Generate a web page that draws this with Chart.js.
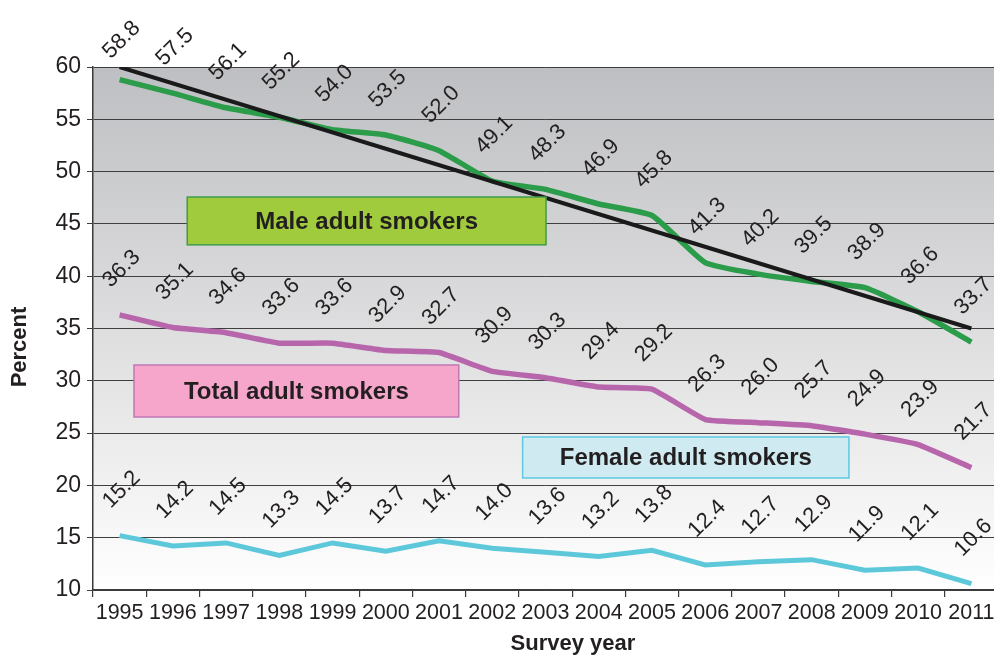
<!DOCTYPE html>
<html>
<head>
<meta charset="utf-8">
<script src="https://cdn.jsdelivr.net/npm/chart.js@4/dist/chart.umd.min.js"></script>
<style>
html,body{margin:0;padding:0;background:#fff;overflow:hidden;}
canvas{display:block;}
</style>
</head>
<body>
<canvas id="c" width="998" height="657"></canvas>
<script>
const years = ['1995','1996','1997','1998','1999','2000','2001','2002','2003','2004','2005','2006','2007','2008','2009','2010','2011'];
const male = [58.8,57.5,56.1,55.2,54.0,53.5,52.0,49.1,48.3,46.9,45.8,41.3,40.2,39.5,38.9,36.6,33.7];
const total = [36.3,35.1,34.6,33.6,33.6,32.9,32.7,30.9,30.3,29.4,29.2,26.3,26.0,25.7,24.9,23.9,21.7];
const female = [15.2,14.2,14.5,13.3,14.5,13.7,14.7,14.0,13.6,13.2,13.8,12.4,12.7,12.9,11.9,12.1,10.6];
const maleTrend = [60,null,null,null,null,null,null,null,null,null,null,null,null,null,null,null,35];
const yTicks = [10,15,20,25,30,35,40,45,50,55,60];

const FONT = "'Liberation Sans', Arial, sans-serif";
const TXT = '#231f20';

const boxes = [
  {text:'Male adult smokers', x0:1.27, x1:8.01, y0:47.57, y1:43.0, fill:'#9fcb3c', stroke:'#3f9c4c'},
  {text:'Total adult smokers', x0:0.27, x1:6.37, y0:31.51, y1:26.54, fill:'#f5a6ca', stroke:'#c277b4'},
  {text:'Female adult smokers', x0:7.57, x1:13.7, y0:24.63, y1:20.71, fill:'#cfebf1', stroke:'#5bc9e2'}
];

const bgPlugin = {
  id:'bg',
  beforeDraw(chart){
    const {ctx, chartArea:a} = chart;
    const g = ctx.createLinearGradient(0, a.top, 0, a.bottom);
    g.addColorStop(0, '#bebfc2');
    g.addColorStop(0.6, '#e4e4e5');
    g.addColorStop(1, '#ffffff');
    ctx.save();
    ctx.fillStyle = g;
    ctx.fillRect(a.left, a.top, a.right - a.left, a.bottom - a.top);
    ctx.restore();
  }
};

const overlayPlugin = {
  id:'overlay',
  afterDatasetsDraw(chart){
    const {ctx} = chart;
    const xs = chart.scales.x, ys = chart.scales.y;
    ctx.save();
    boxes.forEach(b=>{
      const l = xs.getPixelForValue(b.x0), r = xs.getPixelForValue(b.x1);
      const t = ys.getPixelForValue(b.y0), btm = ys.getPixelForValue(b.y1);
      ctx.fillStyle = b.fill;
      ctx.fillRect(l, t, r-l, btm-t);
      ctx.strokeStyle = b.stroke;
      ctx.lineWidth = 1.5;
      ctx.strokeRect(l, t, r-l, btm-t);
      ctx.fillStyle = TXT;
      ctx.font = 'bold 24px ' + FONT;
      ctx.textAlign = 'center';
      ctx.textBaseline = 'middle';
      ctx.fillText(b.text, (l+r)/2, (t+btm)/2 + 1);
    });
    [0,1,2].forEach(di=>{
      const meta = chart.getDatasetMeta(di);
      const vals = chart.data.datasets[di].data;
      meta.data.forEach((pt,i)=>{
        let cy = pt.y - 46;
        if (cy < 40) cy = 40;
        ctx.save();
        ctx.translate(pt.x + 2, cy);
        ctx.rotate(-Math.PI/4);
        ctx.fillStyle = TXT;
        ctx.font = '22px ' + FONT;
        ctx.textAlign = 'center';
        ctx.textBaseline = 'middle';
        ctx.fillText(vals[i].toFixed(1), 0, 0);
        ctx.restore();
      });
    });
    ctx.fillStyle = TXT;
    ctx.font = 'bold 22px ' + FONT;
    ctx.textAlign = 'center';
    ctx.textBaseline = 'middle';
    ctx.fillText('Survey year', 573, 644);
    ctx.save();
    ctx.translate(20, 347);
    ctx.rotate(-Math.PI/2);
    ctx.fillText('Percent', 0, 0);
    ctx.restore();
    ctx.restore();
  }
};

new Chart(document.getElementById('c'), {
  type:'line',
  data:{
    labels: years,
    datasets:[
      {label:'Male', data:male, borderColor:'#2b9c4a', borderWidth:5.5, pointRadius:0, tension:0.15, order:1},
      {label:'Total', data:total, borderColor:'#b866ac', borderWidth:5.5, pointRadius:0, tension:0.1, order:2},
      {label:'Female', data:female, borderColor:'#5ec8db', borderWidth:5, pointRadius:0, tension:0, order:3},
      {label:'Trend', data:maleTrend, borderColor:'#1a1a1a', borderWidth:4, pointRadius:0, spanGaps:true, order:0}
    ]
  },
  options:{
    responsive:false,
    animation:false,
    events:[],
    layout:{padding:{top:67, right:0, left:0, bottom:0}},
    plugins:{legend:{display:false}, tooltip:{enabled:false}},
    scales:{
      x:{
        type:'category',
        offset:true,
        grid:{offset:true, drawOnChartArea:false, drawTicks:true, tickLength:7, color:'#3a3a3a', lineWidth:1.2},
        border:{display:true, color:'#3a3a3a', width:1.5},
        ticks:{font:{family:FONT, size:21.5}, color:TXT, padding:3, maxRotation:0, autoSkip:false},
        afterFit(s){ s.height = 67; }
      },
      y:{
        min:10, max:60,
        afterBuildTicks(s){ s.ticks = yTicks.map(v=>({value:v})); },
        grid:{color:'#3f3f3f', lineWidth:1, tickLength:6},
        border:{display:true, color:'#3a3a3a', width:1.5},
        ticks:{font:{family:FONT, size:23}, color:TXT, padding:6},
        afterFit(s){ s.width = 93; }
      }
    }
  },
  plugins:[bgPlugin, overlayPlugin]
});
</script>
</body>
</html>
